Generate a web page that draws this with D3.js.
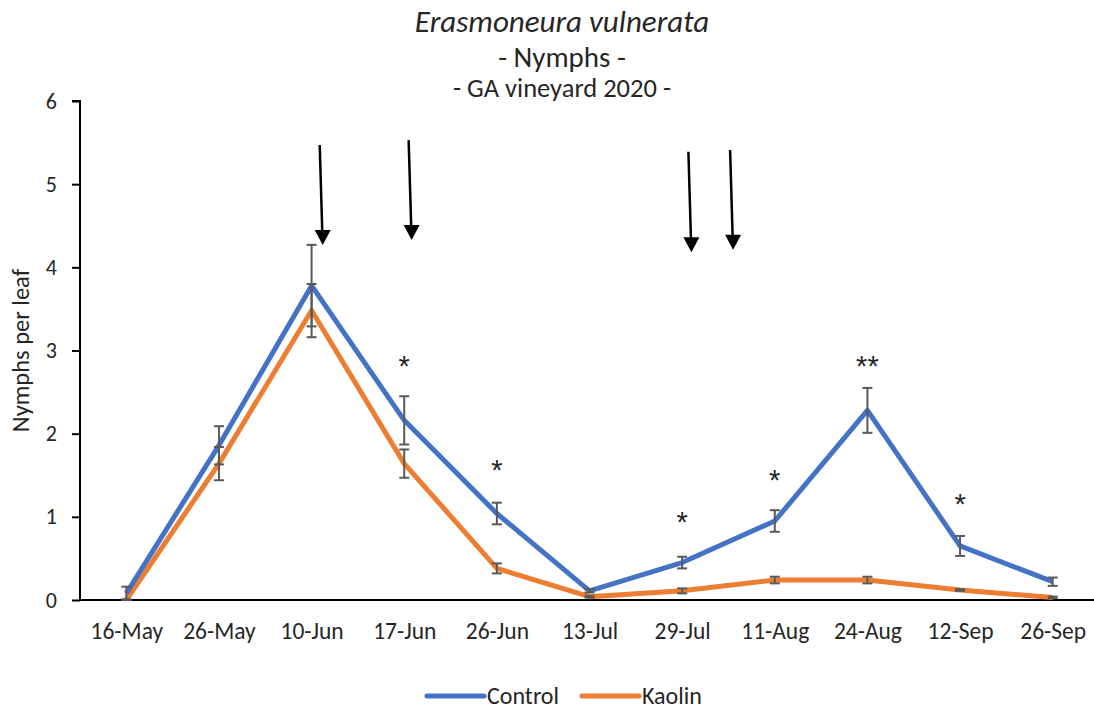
<!DOCTYPE html>
<html>
<head>
<meta charset="utf-8">
<script src="https://cdn.jsdelivr.net/npm/d3@7/dist/d3.min.js"></script>
<style>
  html, body { margin: 0; padding: 0; background: #fff; }
  svg text { font-family: Carlito, Lato, "Open Sans", sans-serif; fill: #262626; }
</style>
</head>
<body>
<svg id="chart" width="1094" height="709"></svg>
<script>
// Sampling dates
const dates = ["16-May", "26-May", "10-Jun", "17-Jun", "26-Jun", "13-Jul", "29-Jul", "11-Aug", "24-Aug", "12-Sep", "26-Sep"];

// Mean nymphs per leaf and standard errors
const controlMean = [0.08, 1.86, 3.78, 2.16, 1.04, 0.11, 0.45, 0.95, 2.28, 0.65, 0.22];
const controlErr  = [0.08, 0.23, 0.49, 0.29, 0.13, 0.02, 0.07, 0.13, 0.27, 0.12, 0.05];
const kaolinMean  = [0.00, 1.64, 3.48, 1.64, 0.38, 0.04, 0.11, 0.24, 0.24, 0.12, 0.03];
const kaolinErr   = [0.01, 0.20, 0.32, 0.17, 0.06, 0.01, 0.03, 0.04, 0.04, 0.01, 0.01];

// Significance marks (date index, label, height in nymphs per leaf)
const sigIndex  = [3, 4, 6, 7, 8, 9];
const sigLabel  = ["*", "*", "*", "*", "**", "*"];
const sigHeight = [2.86, 1.61, 0.99, 1.49, 2.86, 1.20];

// Kaolin application arrows (fractional date index, top, tip in nymphs per leaf)
const sprayPos  = [2.12, 3.08, 6.10, 6.55];
const sprayTop  = [5.47, 5.53, 5.39, 5.41];
const sprayTip  = [4.27, 4.33, 4.18, 4.21];

const yTicks = [0, 1, 2, 3, 4, 5, 6];

const blue = "#4472C4", orange = "#ED7D31", errCol = "#595959";
const font = "Carlito, Lato, sans-serif";

const svg = d3.select("#chart");
const plotLeft = 80, plotRight = 1099, plotTop = 101, plotBottom = 600;

const band = (plotRight - plotLeft) / dates.length;
const xIdx = d3.scaleLinear().domain([0, dates.length - 1])
  .range([plotLeft + band / 2, plotRight - band / 2]);
const x = d3.scalePoint().domain(dates).range(xIdx.range());
const y = d3.scaleLinear().domain([0, 6]).range([plotBottom, plotTop]);

// Titles
svg.append("text").attr("x", 562).attr("y", 32).attr("text-anchor", "middle")
  .style("font-size", "31px").style("font-style", "italic").text("Erasmoneura vulnerata");
svg.append("text").attr("x", 562).attr("y", 67).attr("text-anchor", "middle")
  .style("font-size", "29px").text("- Nymphs -");
svg.append("text").attr("x", 562).attr("y", 97).attr("text-anchor", "middle")
  .style("font-size", "26.5px").text("- GA vineyard 2020 -");

// Y axis
const yAxis = d3.axisLeft(y).tickValues(yTicks).tickFormat(d3.format("d")).tickSize(8).tickPadding(15);
const gy = svg.append("g").attr("transform", `translate(${plotLeft},0)`).call(yAxis);
gy.select(".domain").attr("stroke", "#000").attr("stroke-width", 2).attr("d", `M-8,${plotTop}H0V${plotBottom}`);
gy.selectAll(".tick line").attr("stroke", "#000").attr("stroke-width", 2);
gy.selectAll(".tick text").style("font-size", "22px").style("font-family", font).attr("fill", "#262626");

// X axis
const xAxis = d3.axisBottom(x).tickSize(0);
const gx = svg.append("g").attr("transform", `translate(0,${plotBottom})`).call(xAxis);
gx.select(".domain").attr("stroke", "#000").attr("stroke-width", 2).attr("d", `M${plotLeft},0H1094`);
gx.selectAll(".tick text").attr("y", 39).attr("dy", 0)
  .style("font-size", "23.5px").style("font-family", font).attr("fill", "#262626");

// Y axis title
svg.append("text").attr("transform", `translate(29,${(plotTop + plotBottom) / 2}) rotate(-90)`)
  .attr("text-anchor", "middle").style("font-size", "24.5px").text("Nymphs per leaf");

// Series lines
const line = d3.line().x((d, i) => x(dates[i])).y(d => y(d));
svg.append("path").datum(kaolinMean).attr("d", line).attr("fill", "none")
  .attr("stroke", orange).attr("stroke-width", 5).attr("stroke-linejoin", "round");
svg.append("path").datum(controlMean).attr("d", line).attr("fill", "none")
  .attr("stroke", blue).attr("stroke-width", 5).attr("stroke-linejoin", "round");

// Error bars
function errorBars(means, errs) {
  const g = svg.append("g").attr("stroke", errCol).attr("stroke-width", 2).attr("fill", "none");
  means.forEach((m, i) => {
    const cx = x(dates[i]);
    const lo = Math.max(0, m - errs[i]), hi = m + errs[i];
    g.append("line").attr("x1", cx).attr("x2", cx).attr("y1", y(lo)).attr("y2", y(hi));
    g.append("line").attr("x1", cx - 5).attr("x2", cx + 5).attr("y1", y(hi)).attr("y2", y(hi));
    g.append("line").attr("x1", cx - 5).attr("x2", cx + 5).attr("y1", y(lo)).attr("y2", y(lo));
  });
}
errorBars(kaolinMean, kaolinErr);
errorBars(controlMean, controlErr);

// Significance asterisks
sigIndex.forEach((di, k) => {
  svg.append("text").attr("x", xIdx(di)).attr("y", y(sigHeight[k]) + 14)
    .attr("text-anchor", "middle").style("font-size", "29px")
    .style("font-family", "Liberation Sans, Arial, sans-serif").attr("fill", "#000")
    .text(sigLabel[k]);
});

// Application arrows
sprayPos.forEach((p, k) => {
  const xt = xIdx(p), xb = xIdx(p) - 3;
  const yt = y(sprayTop[k]), yb = y(sprayTip[k]);
  svg.append("line").attr("x1", xb).attr("y1", yt).attr("x2", xt - 0.4).attr("y2", yb - 12)
    .attr("stroke", "#000").attr("stroke-width", 2.5);
  svg.append("path")
    .attr("d", `M${xt - 8},${yb - 15}L${xt + 8},${yb - 15}L${xt},${yb}Z`)
    .attr("fill", "#000");
});

// Legend
const legend = [{ name: "Control", color: blue, x: 427 }, { name: "Kaolin", color: orange, x: 582 }];
legend.forEach(l => {
  svg.append("line").attr("x1", l.x).attr("x2", l.x + 57).attr("y1", 696).attr("y2", 696)
    .attr("stroke", l.color).attr("stroke-width", 5).attr("stroke-linecap", "round");
  svg.append("text").attr("x", l.x + 60).attr("y", 704).style("font-size", "24px").text(l.name);
});
</script>
</body>
</html>
